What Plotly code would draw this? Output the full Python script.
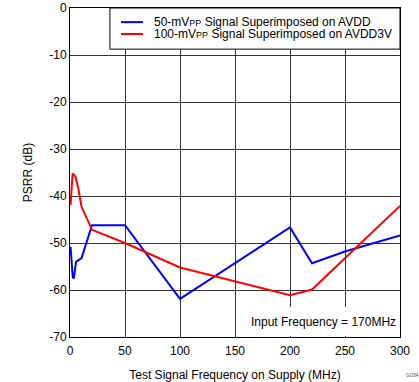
import plotly.graph_objects as go

blue_x = [0.5, 1.5, 2.5, 3.5, 5.5, 10.5, 20, 50, 100, 200, 220, 250, 300]
blue_y = [-50.8, -54.7, -57.3, -57.5, -54.0, -53.2, -46.2, -46.2, -61.9, -46.7, -54.3, -51.8, -48.4]

red_x = [0.5, 1.5, 2.4, 3.2, 5.0, 7.5, 10.5, 20, 50, 100, 200, 220, 300]
red_y = [-41.9, -38.0, -35.2, -35.4, -35.9, -38.3, -42.3, -47.2, -50.0, -55.2, -61.1, -59.9, -42.1]

blue_name = "50-mV<span style='font-size:9px'>PP</span> Signal Superimposed on AVDD"
red_name = "100-mV<span style='font-size:9px'>PP</span> Signal Superimposed on AVDD3V"

x_ticks = [0, 50, 100, 150, 200, 250, 300]
y_ticks = [0, -10, -20, -30, -40, -50, -60, -70]
y_tick_labels = ["0", "-10", "-20", "-30", "-40", "-50", "-60", "-70"]

FONT = "Liberation Sans, Arial, sans-serif"
BLUE = "#0000ff"
RED = "#ff0000"

fig = go.Figure()
fig.add_trace(go.Scatter(x=blue_x, y=blue_y, mode="lines", name=blue_name,
                         line=dict(color=BLUE, width=2), showlegend=False))
fig.add_trace(go.Scatter(x=red_x, y=red_y, mode="lines", name=red_name,
                         line=dict(color=RED, width=2), showlegend=False))

# legend box (manual legend)
fig.add_shape(type="rect", xref="paper", yref="paper", x0=0.121, x1=1.0, y0=0.875, y1=1.0,
              fillcolor="white", line=dict(color="black", width=1), layer="above")
for name, color, yy in [(blue_name, BLUE, 0.957), (red_name, RED, 0.921)]:
    fig.add_shape(type="line", xref="paper", yref="paper", x0=0.1545, x1=0.2212, y0=yy, y1=yy,
                  line=dict(color=color, width=2), layer="above")
    fig.add_annotation(x=0.248, y=yy, xref="paper", yref="paper", text=name,
                       showarrow=False, xanchor="left", yanchor="middle",
                       font=dict(family=FONT, size=12, color="black"))

# annotation background
fig.add_shape(type="rect", xref="x", yref="y", x0=160, x1=299.3, y0=-69.8, y1=-63.6,
              fillcolor="white", line=dict(width=0), layer="above")
fig.add_annotation(x=298, y=-66.8, xref="x", yref="y", text="Input Frequency = 170MHz",
                   showarrow=False, xanchor="right", yanchor="middle",
                   font=dict(family=FONT, size=12, color="black"))
fig.add_annotation(x=1.012, y=-0.1155, xref="paper", yref="paper", text="G034",
                   showarrow=False, xanchor="left", yanchor="middle",
                   font=dict(family=FONT, size=5, color="#444"))

fig.update_layout(
    width=419, height=382,
    margin=dict(l=70, r=19, t=8, b=45, autoexpand=False),
    paper_bgcolor="white", plot_bgcolor="white",
    font=dict(family=FONT, size=12, color="black"),
    showlegend=False,
    xaxis=dict(range=[0, 300], tickvals=x_ticks, showgrid=True, gridcolor="#333333",
               gridwidth=1, showline=True, linecolor="black", linewidth=1, mirror=True,
               ticks="", zeroline=False, automargin=False, ticklabelstandoff=3,
               title=dict(text="Test Signal Frequency on Supply (MHz)", standoff=14,
                          font=dict(size=12))),
    yaxis=dict(range=[-70, 0], tickvals=y_ticks, ticktext=y_tick_labels, showgrid=True,
               gridcolor="#333333",
               gridwidth=1, showline=True, linecolor="black", linewidth=1, mirror=True,
               ticks="", zeroline=False, automargin=False,
               title=dict(text="PSRR (dB)", standoff=14, font=dict(size=12))),
)

fig.write_html("out.html", config={"displayModeBar": False},
               post_script="document.body.style.margin='0px';")
